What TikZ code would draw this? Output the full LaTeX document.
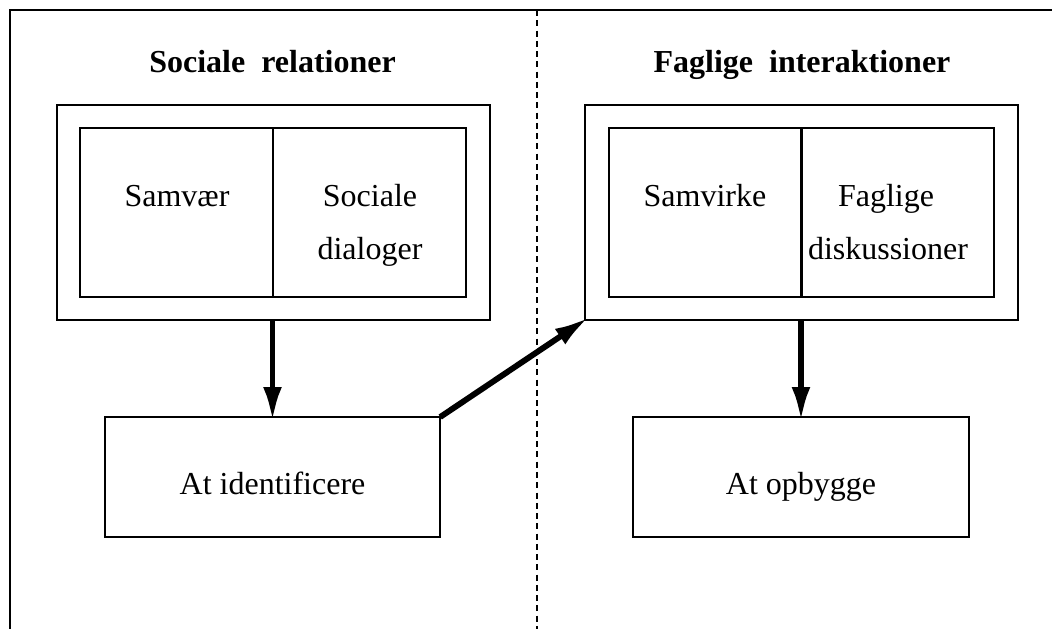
\documentclass[tikz,border=0pt]{standalone}
\usepackage{fontspec}
\setmainfont{Liberation Serif}
\usetikzlibrary{shapes,arrows.meta,positioning}

\tikzset{
  box/.style={draw, line width=0.75pt, inner sep=0pt, outer sep=0pt},
  outerbox/.style={box, minimum width=162.4pt, minimum height=80.6pt},
  halfbox/.style={box, minimum width=72.2pt, minimum height=63.4pt},
  actbox/.style={box, minimum width=125.8pt, minimum height=45pt, text height=13.5pt, text depth=0pt, font=\fontsize{12}{14}\selectfont},
  lbl/.style={anchor=base, inner sep=0pt, font=\fontsize{12}{14}\selectfont},
  title/.style={lbl, font=\fontsize{12}{14}\selectfont\bfseries},
  flow/.style={->, line width=2.2pt, shorten >=-1.8pt}
}

\begin{document}
\begin{tikzpicture}[x=0.375pt,y=-0.375pt,>={Latex[length=13pt,width=7pt]}]
  \useasboundingbox (0,0) rectangle (1052,629);
  % frame and divider
  \draw[line width=0.75pt] (1052,10) -- (10,10) -- (10,629);
  \draw[line width=0.4pt,dash pattern=on 2.25pt off 1.6pt] (537,10) -- (537,629);

  % left side
  \node[title] (T1) at (272.5,73) {Sociale\ \ relationer};
  \node[outerbox] (SR) at (273.5,212.5) {};
  \node[halfbox] (S1) at (176.75,212.5) {};
  \node[halfbox] (S2) at (369.25,212.5) {};
  \node[lbl] (samv) at (177,207) {Samvær};
  \node[lbl] (sdia1) at (370,207) {Sociale};
  \node[lbl] (sdia2) at (370,260) {dialoger};
  \node[actbox] (ID) at (272.5,477) {At identificere};

  % right side
  \node[title] (T2) at (802,73) {Faglige\ \ interaktioner};
  \node[outerbox] (FI) at (801.5,212.5) {};
  \node[halfbox] (F1) at (705.25,212.5) {};
  \node[halfbox] (F2) at (897.75,212.5) {};
  \node[lbl] (samvi) at (705,207) {Samvirke};
  \node[lbl] (fdis1) at (886,207) {Faglige};
  \node[lbl] (fdis2) at (888,260) {diskussioner};
  \node[actbox] (OB) at (801,477) {At opbygge};

  % arrows
  \draw[flow] (SR.south -| ID.north) -- (ID.north);
  \draw[flow] (ID.north east) -- (FI.south west);
  \draw[flow] (FI.south -| OB.north) -- (OB.north);
\end{tikzpicture}
\end{document}
